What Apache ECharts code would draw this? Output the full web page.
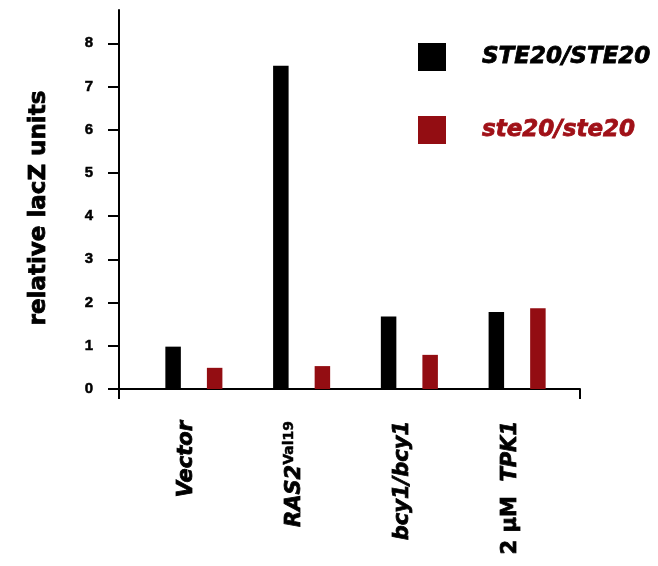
<!DOCTYPE html>
<html>
<head>
<meta charset="utf-8">
<script src="https://cdn.jsdelivr.net/npm/echarts@6/dist/echarts.min.js"></script>
<style>html,body{margin:0;padding:0;background:#fff}#c{width:658px;height:566px}</style>
</head>
<body>
<div id="c"></div>
<script>
var categories = ['Vector', 'RAS2Val19', 'bcy1/bcy1', '2 µM TPK1'];
var categoryLabels = ['{it|Vector}', '{it|RAS2}{sup|Val19}', '{it|bcy1/bcy1}', '{n|2 µM  }{it|TPK1}'];
var seriesNames = ['STE20/STE20', 'ste20/ste20'];
var wildType = [0.98, 7.48, 1.68, 1.78];
var mutant = [0.49, 0.53, 0.79, 1.87];
var yTicks = [0, 1, 2, 3, 4, 5, 6, 7, 8];
var yMax = 8.77;

var BLACK = '#000000';
var RED = '#930d12';
var RED_TEXT = '#a01118';
var FONT = 'DejaVu Sans';

var chart = echarts.init(document.getElementById('c'), null, {renderer: 'canvas'});
chart.setOption({
  backgroundColor: '#ffffff',
  animation: false,
  legend: {
    orient: 'vertical',
    left: 418,
    top: 43,
    padding: 0,
    itemWidth: 28,
    itemHeight: 28,
    itemGap: 45,
    icon: 'rect',
    selectedMode: false,
    textStyle: {fontFamily: FONT, fontWeight: 'bold', fontStyle: 'italic', fontSize: 23, padding: [0, 0, 12, 31], textBorderWidth: 0.8},
    data: [
      {name: seriesNames[0], textStyle: {color: BLACK, textBorderColor: BLACK}},
      {name: seriesNames[1], textStyle: {color: RED_TEXT, textBorderColor: RED_TEXT}}
    ]
  },
  grid: [
    {left: 119, right: 78, top: 10, bottom: 177},
    {left: 140, right: 87, top: 10, bottom: 177}
  ],
  xAxis: [
    {
      gridIndex: 0, type: 'value', min: 0, max: 1, interval: 1,
      axisLine: {show: true, onZero: false, lineStyle: {color: BLACK, width: 2}},
      axisTick: {show: true, length: 10, lineStyle: {color: BLACK, width: 2}},
      axisLabel: {show: false},
      splitLine: {show: false}
    },
    {
      gridIndex: 1, type: 'category', data: categories,
      axisLine: {show: false},
      axisTick: {show: false},
      axisLabel: {
        rotate: 90, margin: 32, interval: 0,
        formatter: function (v, i) { return categoryLabels[i]; },
        padding: [0, 0, 14, 0],
        rich: {
          it: {fontFamily: FONT, fontWeight: 'bold', fontStyle: 'italic', fontSize: 21, color: BLACK, lineHeight: 24, textBorderColor: BLACK, textBorderWidth: 0.8},
          n: {fontFamily: FONT, fontWeight: 'bold', fontSize: 21, color: BLACK, lineHeight: 24, textBorderColor: BLACK, textBorderWidth: 0.8},
          sup: {fontFamily: FONT, fontWeight: 'bold', fontSize: 14, color: BLACK, lineHeight: 14, verticalAlign: 'top', textBorderColor: BLACK, textBorderWidth: 0.5}
        }
      }
    }
  ],
  yAxis: [
    {
      gridIndex: 0, type: 'value', min: 0, max: yMax, interval: 1,
      name: 'relative lacZ units', nameLocation: 'middle', nameGap: 68,
      nameTextStyle: {fontFamily: FONT, fontWeight: 'bold', fontSize: 23, color: BLACK, padding: [0, 17, 0, 0], textBorderColor: BLACK, textBorderWidth: 0.8},
      axisLine: {show: true, lineStyle: {color: BLACK, width: 2}},
      axisTick: {show: true, length: 11, customValues: yTicks, lineStyle: {color: BLACK, width: 2}},
      axisLabel: {customValues: yTicks, margin: 26, fontFamily: 'Liberation Sans', fontWeight: 'bold', fontSize: 15, color: BLACK, textBorderColor: BLACK, textBorderWidth: 0.5},
      splitLine: {show: false}
    },
    {
      gridIndex: 1, type: 'value', min: 0, max: yMax, show: false, splitLine: {show: false}
    }
  ],
  series: [
    {name: seriesNames[0], type: 'bar', xAxisIndex: 1, yAxisIndex: 1, data: wildType, barWidth: 15.5, barGap: '168%', itemStyle: {color: BLACK}},
    {name: seriesNames[1], type: 'bar', xAxisIndex: 1, yAxisIndex: 1, data: mutant, barWidth: 15.5, barGap: '168%', itemStyle: {color: RED}}
  ]
});
</script>
</body>
</html>
